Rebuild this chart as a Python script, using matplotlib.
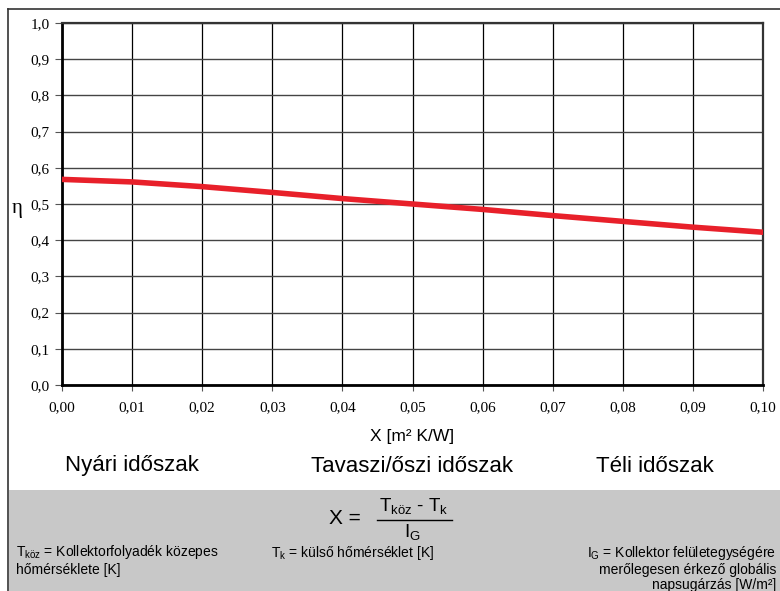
import matplotlib.pyplot as plt
from matplotlib.patches import Rectangle
from matplotlib.lines import Line2D

# data
x_vals = [0.00, 0.01, 0.02, 0.03, 0.04, 0.05, 0.06, 0.07, 0.08, 0.09, 0.10]
eta_vals = [0.568, 0.561, 0.548, 0.532, 0.515, 0.500, 0.485, 0.468, 0.452, 0.436, 0.422]
x_ticks = [0.00, 0.01, 0.02, 0.03, 0.04, 0.05, 0.06, 0.07, 0.08, 0.09, 0.10]
y_ticks = [0.0, 0.1, 0.2, 0.3, 0.4, 0.5, 0.6, 0.7, 0.8, 0.9, 1.0]
periods = ["Nyári időszak", "Tavaszi/őszi időszak", "Téli időszak"]
period_x = [132, 412, 655]

W, H = 780, 591
sans = 'Liberation Sans'
serif = 'Liberation Serif'

plt.rcParams['mathtext.fontset'] = 'custom'
plt.rcParams['mathtext.rm'] = sans
plt.rcParams['mathtext.it'] = sans

fig = plt.figure(figsize=(W / 100, H / 100), dpi=100)

def px(x, y):
    return x / W, 1 - y / H

# outer frame and grey footer
fig.add_artist(Line2D([8 / W, 8 / W], [0, 1 - 9 / H], color='#333333', lw=1.2))
fig.add_artist(Line2D([8 / W, 1], [1 - 9 / H, 1 - 9 / H], color='#333333', lw=1.2))
fig.add_artist(Rectangle(px(9, 591), (W - 9) / W, 101 / H, facecolor='#c8c8c8',
                         edgecolor='none', transform=fig.transFigure))

ax = fig.add_axes([62 / W, (H - 385) / H, 701 / W, 362 / H])
ax.plot(x_vals, eta_vals, color='#e8202a', lw=4, solid_capstyle='round', zorder=3)
ax.set_xlim(0, 0.10)
ax.set_ylim(0, 1.0)
ax.set_xticks(x_ticks)
ax.set_yticks(y_ticks)
ax.set_xticklabels([f"{v:.2f}".replace('.', ',') for v in x_ticks], fontfamily=serif, fontsize=11)
ax.set_yticklabels([f"{v:.1f}".replace('.', ',') for v in y_ticks], fontfamily=serif, fontsize=11)
ax.tick_params(axis='x', direction='out', length=4, pad=8, color='#555555')
ax.tick_params(axis='y', direction='out', length=5, pad=4, color='#555555')
ax.grid(axis='x', color='black', lw=0.9)
ax.grid(axis='y', color='#444444', lw=1.0)
for side in ['left', 'bottom']:
    ax.spines[side].set_linewidth(2)
    ax.spines[side].set_color('black')
for side in ['top', 'right']:
    ax.spines[side].set_linewidth(1.6)
    ax.spines[side].set_color('#333333')

fig.text(*px(12, 208), "η", fontfamily=serif, fontsize=15, va='center', ha='left')
fig.text(*px(412, 437), "X [m² K/W]", fontfamily=sans, fontsize=12.5, ha='center', va='center')
for name, xp in zip(periods, period_x):
    fig.text(*px(xp, 466), name, fontfamily=sans, fontsize=16, ha='center', va='center')

# formula
fig.text(*px(345, 519), "X =", fontfamily=sans, fontsize=15, ha='center', va='center')
fig.text(*px(414, 506), r"T$_{\mathrm{köz}}$ - T$_{\mathrm{k}}$", fontfamily=sans,
         fontsize=13.5, ha='center', va='center')
fig.add_artist(Line2D([377 / W, 452 / W], [1 - 520 / H, 1 - 520 / H], color='black', lw=1))
fig.text(*px(412, 532), r"I$_{\mathrm{G}}$", fontfamily=sans, fontsize=13.5, ha='center', va='center')

fig.text(*px(16, 560), "T$_{\\mathrm{köz}}$ = Kollektorfolyadék közepes\nhőmérséklete [K]",
         fontfamily=sans, fontsize=10, ha='left', va='center', linespacing=1.1)
fig.text(*px(271, 553), "T$_{\\mathrm{k}}$ = külső hőmérséklet [K]",
         fontfamily=sans, fontsize=10, ha='left', va='center')
fig.text(*px(776, 568), "I$_{\\mathrm{G}}$ = Kollektor felületegységére\nmerőlegesen érkező globális\nnapsugárzás [W/m²]",
         fontfamily=sans, fontsize=10, ha='right', va='center', linespacing=1.1, multialignment='right')

fig.savefig("out.png", dpi=100)
